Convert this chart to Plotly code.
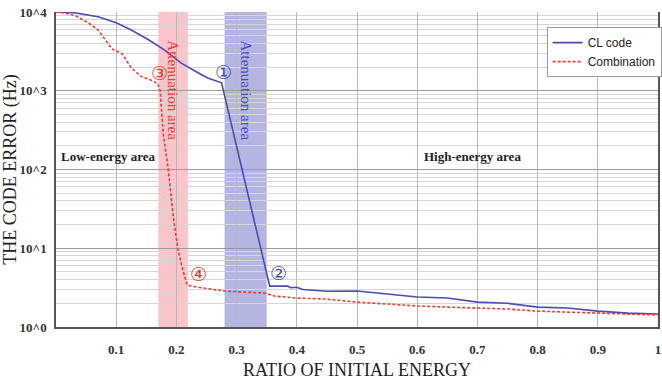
import plotly.graph_objects as go

# ---- data ----
cl_x = [0.0, 0.03, 0.07, 0.1, 0.125, 0.153, 0.18, 0.208, 0.236, 0.252, 0.275,
        0.355, 0.37, 0.385, 0.39, 0.40, 0.41, 0.45, 0.5, 0.55, 0.6, 0.65, 0.7,
        0.75, 0.8, 0.85, 0.9, 0.95, 1.0]
cl_y = [10000, 9800, 8700, 7300, 5900, 4470, 3300, 2240, 1690, 1450, 1260,
        3.3, 3.3, 3.3, 3.15, 3.2, 3.0, 2.85, 2.86, 2.6, 2.4, 2.33, 2.07,
        2.0, 1.79, 1.74, 1.59, 1.5, 1.46]

co_x = [0.0, 0.016, 0.033, 0.055, 0.07, 0.082, 0.093, 0.11, 0.125, 0.142, 0.159,
        0.169, 0.173, 0.178, 0.186, 0.195, 0.203, 0.211, 0.218, 0.236, 0.28,
        0.347, 0.363, 0.4, 0.45, 0.5, 0.55, 0.6, 0.65, 0.7, 0.75, 0.8, 0.85,
        0.9, 0.95, 1.0]
co_y = [10000, 9700, 8900, 7200, 5900, 4470, 3400, 2950, 1950, 1510, 1350,
        1230, 1000, 290, 107, 24.5, 9.3, 5.2, 3.4, 3.2, 2.86,
        2.7, 2.47, 2.33, 2.26, 2.07, 1.95, 1.85, 1.79, 1.74, 1.69, 1.59, 1.55,
        1.5, 1.48, 1.42]

x_ticks = [0.1, 0.2, 0.3, 0.4, 0.5, 0.6, 0.7, 0.8, 0.9, 1.0]
x_ticktext = ["0.1", "0.2", "0.3", "0.4", "0.5", "0.6", "0.7", "0.8", "0.9", "1"]
y_ticks = [1, 10, 100, 1000, 10000]
y_ticktext = ["10^0", "10^1", "10^2", "10^3", "10^4"]
y_minor = [m * d for d in [1, 10, 100, 1000] for m in range(2, 10)]

red_band = [0.17, 0.219]
blue_band = [0.28, 0.35]

BLUE = "#4b4bb8"
RED = "#f03a2e"
SERIF = "Liberation Serif, Times New Roman, serif"

fig = go.Figure()
fig.add_trace(go.Scatter(x=cl_x, y=cl_y, mode="lines", name="CL code",
                         line=dict(color=BLUE, width=1.6)))
fig.add_trace(go.Scatter(x=co_x, y=co_y, mode="lines", name="Combination",
                         line=dict(color=RED, width=1.6, dash="3px,2px")))

fig.add_vrect(x0=red_band[0], x1=red_band[1], fillcolor="rgba(240,140,150,0.5)",
              line_width=0, layer="below")
fig.add_vrect(x0=blue_band[0], x1=blue_band[1], fillcolor="rgba(120,120,200,0.55)",
              line_width=0, layer="below")

ann = [
    dict(x=0.195, y=3.0, text="Attenuation area", textangle=90,
         font=dict(family=SERIF, size=15, color=RED)),
    dict(x=0.316, y=3.0, text="Attenuation area", textangle=90,
         font=dict(family=SERIF, size=15, color=BLUE)),
    dict(x=0.172, y=3.225, text="③", font=dict(family="DejaVu Sans", size=19, color=RED)),
    dict(x=0.279, y=3.24, text="①", font=dict(family="DejaVu Sans", size=19, color=BLUE)),
    dict(x=0.369, y=0.686, text="②", font=dict(family="DejaVu Sans", size=19, color=BLUE)),
    dict(x=0.236, y=0.673, text="④", font=dict(family="DejaVu Sans", size=19, color=RED)),
    dict(x=0.087, y=2.16, text="<b>Low-energy area</b>",
         font=dict(family=SERIF, size=13, color="#222")),
    dict(x=0.692, y=2.16, text="<b>High-energy area</b>",
         font=dict(family=SERIF, size=13, color="#222")),
]
for a in ann:
    fig.add_annotation(xref="x", yref="y", showarrow=False, **a)

fig.update_layout(
    width=662, height=387,
    margin=dict(l=56, r=4, t=12, b=60, autoexpand=False),
    plot_bgcolor="white", paper_bgcolor="white",
    showlegend=True,
    legend=dict(x=0.815, y=0.952, xanchor="left", yanchor="top",
                bgcolor="white", bordercolor="#999", borderwidth=1,
                font=dict(family="Liberation Sans, Arial", size=12, color="#222"),
                tracegroupgap=0, itemwidth=30),
)
fig.update_xaxes(
    range=[0, 1], tickvals=x_ticks, ticktext=["<b>%s</b>" % t for t in x_ticktext],
    tickfont=dict(family=SERIF, size=13, color="#333"), ticks="",
    showgrid=True, gridcolor="#b8b8b8", gridwidth=1,
    showline=True, linecolor="#555", linewidth=2, mirror=False,
    zeroline=False, ticklabelstandoff=9, ticklabeloverflow="allow", automargin=False,
    title=dict(text="RATIO OF INITIAL ENERGY", standoff=8,
               font=dict(family=SERIF, size=18, color="#222")),
)
fig.update_yaxes(
    type="log", range=[0, 4], tickvals=y_ticks, ticktext=["<b>%s</b>" % t for t in y_ticktext],
    tickfont=dict(family=SERIF, size=13, color="#333"), ticks="",
    showgrid=True, gridcolor="#9a9a9a", gridwidth=1,
    minor=dict(tickvals=y_minor, showgrid=True, gridcolor="#d6d6d6", gridwidth=1),
    showline=True, linecolor="#555", linewidth=1.5, mirror=True,
    zeroline=False, ticklabelstandoff=5, automargin=False,
    title=dict(text="THE CODE ERROR (Hz)", standoff=6,
               font=dict(family=SERIF, size=18, color="#222")),
)

fig.write_html("out.html")
